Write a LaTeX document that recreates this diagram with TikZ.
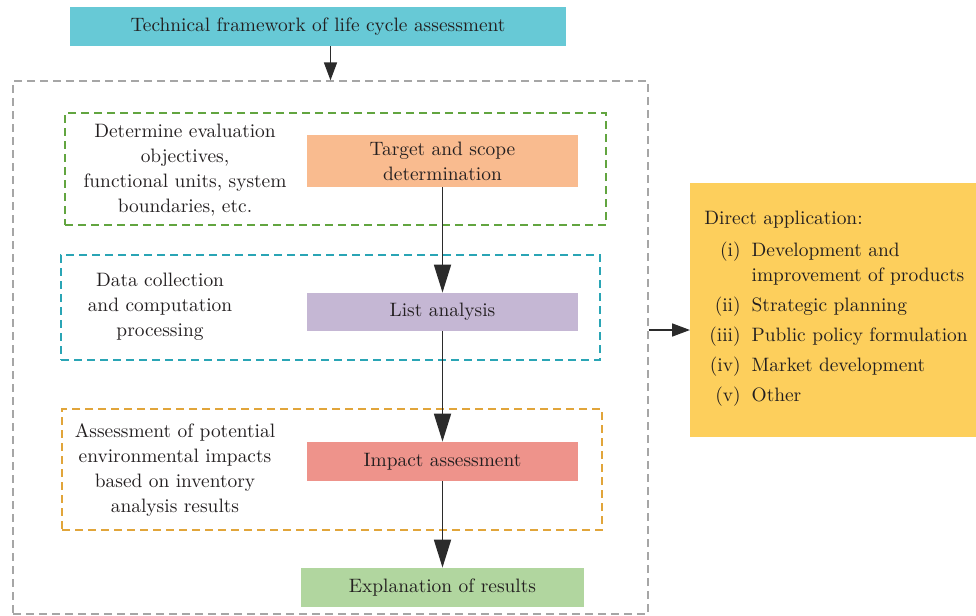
\documentclass[tikz,border=0pt]{standalone}
\usetikzlibrary{arrows.meta}

\definecolor{txtcol}{HTML}{231F20}
\definecolor{titlecol}{HTML}{67C9D6}
\definecolor{targetcol}{HTML}{F9BB8F}
\definecolor{listcol}{HTML}{C5B7D4}
\definecolor{impactcol}{HTML}{EE938B}
\definecolor{explaincol}{HTML}{B1D69F}
\definecolor{appcol}{HTML}{FDCF5C}
\definecolor{goaldash}{HTML}{62A540}
\definecolor{datadash}{HTML}{2AA5B5}
\definecolor{assessdash}{HTML}{E1A53A}
\definecolor{outerdash}{HTML}{A6A6A6}
\definecolor{arrowcol}{HTML}{2B2B2B}

\begin{document}
\begin{tikzpicture}[x=0.5pt, y=-0.5pt,
        font=\fontsize{9.7}{12.5}\selectfont, text=txtcol,
        stagebox/.style={rectangle, minimum width=135.5pt, minimum height=19.5pt, inner sep=0pt},
        frame/.style={rectangle, line width=0.6pt, dash pattern=on 4pt off 2.5pt, inner sep=0pt},
        flow/.style={-{Triangle[length=14pt, width=8.5pt]}, line width=0.9pt, draw=arrowcol},
        link/.style={-{Triangle[length=9pt, width=6.5pt]}, line width=0.8pt, draw=arrowcol}]
        \useasboundingbox (0,0) rectangle (976,616);

        \node[rectangle, fill=titlecol, minimum width=248pt, minimum height=19.5pt] (title) at (318,26.5) {Technical framework of life cycle assessment};

        % dashed frames
        \node[frame, draw=outerdash, minimum width=317.5pt, minimum height=266.5pt] (outer) at (330.5,347.5) {};
        \node[frame, draw=goaldash, minimum width=270.5pt, minimum height=56pt] (goalframe) at (335.5,169) {};
        \node[frame, draw=datadash, minimum width=269.5pt, minimum height=52.5pt] (dataframe) at (330.5,307.5) {};
        \node[frame, draw=assessdash, minimum width=270pt, minimum height=60.5pt] (assessframe) at (332,469.5) {};

        % notes on the left
        \node[align=center] (goaltext) at (185,170) {Determine evaluation\\objectives,\\functional units, system\\boundaries, etc.};
        \node[align=center] (datatext) at (160,307) {Data collection\\and computation\\processing};
        \node[align=center] (assesstext) at (175,470) {Assessment of potential\\environmental impacts\\based on inventory\\analysis results};

        % main column
        \node[stagebox, fill=targetcol, minimum height=26pt, align=center] (target) at (442.5,161) {Target and scope\\determination};
        \node[stagebox, fill=listcol, minimum height=19pt] (list) at (442.5,312) {List analysis};
        \node[stagebox, fill=impactcol] (impact) at (442.5,461.5) {Impact assessment};
        \node[stagebox, fill=explaincol, minimum width=141.5pt] (explain) at (442.5,587.5) {Explanation of results};

        % applications
        \node[rectangle, fill=appcol, anchor=west, minimum width=150pt, minimum height=127pt, text width=136pt, inner xsep=7pt, align=left] (apps) at (690,310) {Direct application:\\[4pt]
            \hspace*{2.5pt}\begin{tabular}{@{}r@{\hspace{5.5pt}}l@{}}
            (i) & Development and\\
                & improvement of products\\[2.5pt]
            (ii) & Strategic planning\\[2.5pt]
            (iii) & Public policy formulation\\[2.5pt]
            (iv) & Market development\\[2.5pt]
            (v) & Other
            \end{tabular}};

        \coordinate (hook) at ([yshift=-10pt]apps.west);

        \draw[link] (outer.north |- title.south) -- (outer.north);
        \draw[flow] (target) -- (list);
        \draw[flow] (list) -- (impact);
        \draw[flow] (impact) -- (explain);
        \draw[link] (hook -| outer.east) -- (hook);
    \end{tikzpicture}
\end{document}
